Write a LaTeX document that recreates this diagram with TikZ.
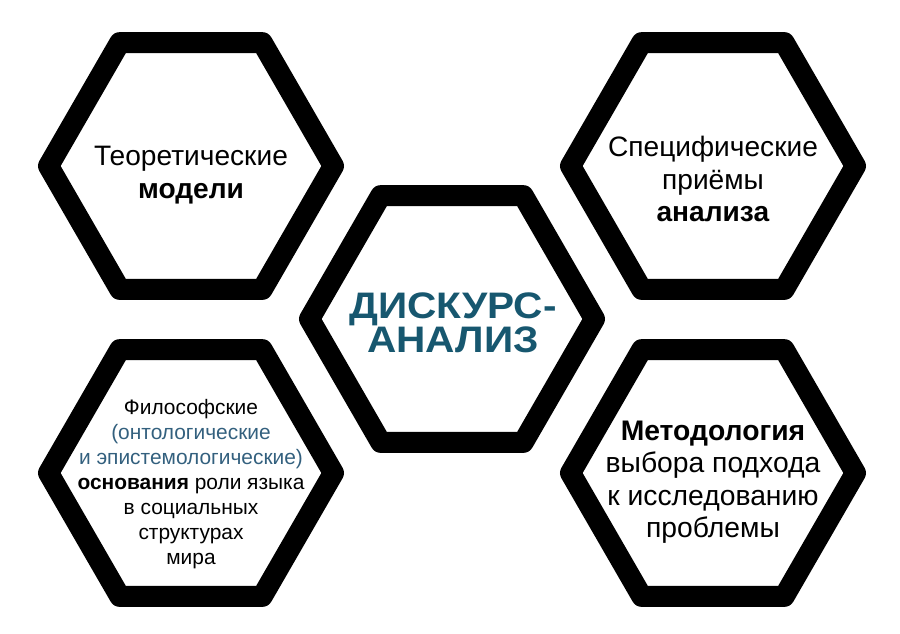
\documentclass[tikz,border=0pt]{standalone}
\usepackage{fontspec}
\setmainfont{Liberation Sans}
\usetikzlibrary{shapes.geometric}
\definecolor{discourse}{HTML}{17576F}
\definecolor{paren}{HTML}{33607E}

\begin{document}
\begin{tikzpicture}[x=0.02cm,y=-0.02cm,line join=round,
    hex/.style={regular polygon,regular polygon sides=6,minimum size=5.7cm,inner sep=0pt,draw,line width=0.42cm},
    txt/.style={align=center,inner sep=0pt,font=\fontsize{16}{18.6}\selectfont}]

    \useasboundingbox (0,0) rectangle (900,633);

    \node (1) [hex] at (191,166) {};
    \node (2) [hex] at (713,166) {};
    \node (3) [hex] at (452,319) {};
    \node (4) [hex] at (191,473) {};
    \node (5) [hex] at (713,473) {};

    \node (t1) [txt] at (191,175) {Теоретические\\\textbf{модели}};
    \node (t2) [txt] at (713,179) {Специфические\\приёмы\\\textbf{анализа}};
    \node (t3) [txt, font=\fontsize{21}{19.3}\selectfont\bfseries, text=discourse, xscale=1.1, transform shape] at (453,323) {ДИСКУРС-\\АНАЛИЗ};
    \node (t4) [txt, font=\fontsize{11.9}{14.3}\selectfont] at (191,484) {Философские\\\textcolor{paren}{(онтологические}\\\textcolor{paren}{и эпистемологические)}\\\textbf{основания} роли языка\\в социальных\\структурах\\мира};
    \node (t5) [txt, font=\fontsize{16.1}{18.5}\selectfont] at (713,482) {\textbf{Методология}\\выбора подхода\\к исследованию\\проблемы};
\end{tikzpicture}
\end{document}
